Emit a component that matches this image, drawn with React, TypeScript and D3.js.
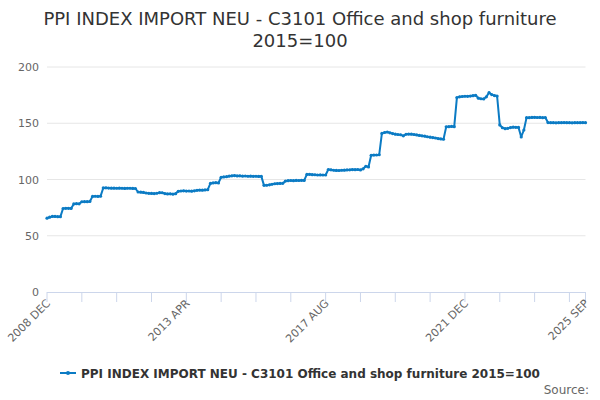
import * as d3 from 'd3'

// monthly index values, 2008 DEC .. 2025 SEP
const v2008 = [65.6]
const v2009 = [66.5, 67.2, 67.2, 67.0, 67.0, 74.2, 74.4, 74.4, 74.3, 78.3, 78.5, 78.4]
const v2010 = [80.2, 80.3, 80.3, 80.5, 85.0, 85.1, 85.0, 85.2, 92.5, 92.6, 92.4, 92.3]
const v2011 = [92.3, 92.2, 92.3, 92.2, 92.1, 92.2, 92.2, 92.1, 92.0, 88.9, 88.7, 88.5]
const v2012 = [88.0, 87.7, 87.6, 87.5, 87.8, 88.3, 88.2, 87.5, 87.2, 87.3, 87.0, 87.4]
const v2013 = [89.5, 89.8, 89.9, 89.7, 89.8, 89.6, 89.9, 90.4, 90.6, 90.5, 90.7, 91.0]
const v2014 = [96.5, 97.0, 97.2, 97.0, 102.0, 102.3, 102.5, 103.0, 103.3, 103.5, 103.2, 103.3]
const v2015 = [103.0, 103.1, 102.9, 103.0, 102.8, 102.9, 102.7, 102.8, 94.8, 94.9, 95.3, 95.8]
const v2016 = [96.2, 96.4, 96.5, 96.6, 98.6, 99.0, 99.1, 99.0, 99.2, 99.1, 99.3, 99.2]
const v2017 = [104.5, 104.6, 104.3, 104.2, 104.0, 104.1, 104.0, 104.0, 108.9, 108.6, 108.2, 108.1]
const v2018 = [108.0, 108.2, 108.3, 108.5, 108.6, 108.8, 108.7, 108.9, 108.5, 109.5, 111.8, 111.2]
const v2019 = [121.5, 121.7, 121.8, 122.0, 141.0, 141.8, 142.2, 141.5, 140.8, 140.3, 140.0, 139.8]
const v2020 = [138.8, 140.2, 140.4, 140.3, 140.0, 139.6, 139.2, 138.8, 138.5, 138.0, 137.6, 137.3]
const v2021 = [136.9, 136.4, 136.1, 135.8, 146.8, 147.0, 147.2, 147.0, 172.8, 173.5, 173.8, 174.0]
const v2022 = [173.9, 174.2, 174.5, 174.8, 172.3, 171.8, 171.6, 173.5, 177.2, 175.5, 174.6, 174.2]
const v2023 = [148.5, 146.0, 145.2, 145.5, 146.2, 146.5, 146.4, 146.3, 137.8, 144.0, 155.0, 155.0]
const v2024 = [155.2, 155.3, 155.1, 155.2, 155.0, 155.1, 150.6, 150.5, 150.5, 150.4, 150.5, 150.5]
const v2025 = [150.6, 150.5, 150.5, 150.4, 150.5, 150.5, 150.5, 150.6, 150.5]

const values = [
  ...v2008, ...v2009, ...v2010, ...v2011, ...v2012, ...v2013, ...v2014, ...v2015, ...v2016,
  ...v2017, ...v2018, ...v2019, ...v2020, ...v2021, ...v2022, ...v2023, ...v2024, ...v2025,
]

const MONTHS = ['JAN', 'FEB', 'MAR', 'APR', 'MAY', 'JUN', 'JUL', 'AUG', 'SEP', 'OCT', 'NOV', 'DEC']
const categories = values.map((_, i) => {
  const m = 11 + i
  return `${2008 + Math.floor(m / 12)} ${MONTHS[m % 12]}`
})

const tickLabels = ['2008 DEC', '2013 APR', '2017 AUG', '2021 DEC', '2025 SEP']
const yTicks = [0, 50, 100, 150, 200]

const TITLE = 'PPI INDEX IMPORT NEU - C3101 Office and shop furniture'
const SUBTITLE = '2015=100'
const SERIES = 'PPI INDEX IMPORT NEU - C3101 Office and shop furniture 2015=100'

const W = 600
const H = 400
const PLOT = { left: 47, right: 585.5, top: 67, bottom: 292 }
const COLOR = '#0b7bc4'
const FONT = '"DejaVu Sans", sans-serif'

export default function App() {
  const x = d3.scalePoint<string>().domain(categories).range([PLOT.left, PLOT.right])
  const y = d3.scaleLinear().domain([0, 200]).range([PLOT.bottom, PLOT.top])

  // minor ticks every 13 months, plus the last month
  const tickCats = categories.filter((_, i) => i % 13 === 0 || i === categories.length - 1)

  const line = d3.line<number>()
    .x((_, i) => x(categories[i])!)
    .y(d => y(d))

  return (
    <div style={{ position: 'absolute', left: 0, top: 0 }}>
      <svg width={W} height={H} style={{ display: 'block', fontFamily: FONT }}>
        <rect width={W} height={H} fill="#fff" />

        <text x={W / 2} y={25} textAnchor="middle" fontSize={18} fill="#333">{TITLE}</text>
        <text x={W / 2} y={47} textAnchor="middle" fontSize={18} fill="#333">{SUBTITLE}</text>

        {/* grid + y labels */}
        {yTicks.map(t => (
          <g key={t}>
            {t > 0 && (
              <line x1={PLOT.left} x2={PLOT.right} y1={y(t)} y2={y(t)} stroke="#e6e6e6" />
            )}
            <text x={39} y={y(t) + 4} textAnchor="end" fontSize={11} fill="#666">{t}</text>
          </g>
        ))}

        {/* x axis */}
        <line x1={PLOT.left} x2={PLOT.right} y1={PLOT.bottom + 0.5} y2={PLOT.bottom + 0.5} stroke="#ccd6eb" />
        {tickCats.map(c => (
          <line key={c} x1={x(c)! } x2={x(c)!} y1={PLOT.bottom} y2={PLOT.bottom + 10} stroke="#ccd6eb" />
        ))}
        {tickLabels.map(c => (
          <text key={c} transform={`translate(${x(c)! + 4},${PLOT.bottom + 12}) rotate(-45)`}
            textAnchor="end" fontSize={11} fill="#666">{c}</text>
        ))}

        {/* series */}
        <path d={line(values) ?? ''} fill="none" stroke={COLOR} strokeWidth={2} strokeLinejoin="round" />
        {values.map((v, i) => (
          <circle key={i} cx={x(categories[i])} cy={y(v)} r={1.6} fill={COLOR} />
        ))}

        {/* legend */}
        <g transform="translate(60,373)">
          <line x1={0} x2={16} y1={0} y2={0} stroke={COLOR} strokeWidth={2} />
          <circle cx={8} cy={0} r={2} fill={COLOR} />
          <text x={21} y={4.5} fontSize={12} fontWeight="bold" fill="#333">{SERIES}</text>
        </g>

        <text x={589} y={394} textAnchor="end" fontSize={12} fill="#666">Source:</text>
      </svg>
    </div>
  )
}
